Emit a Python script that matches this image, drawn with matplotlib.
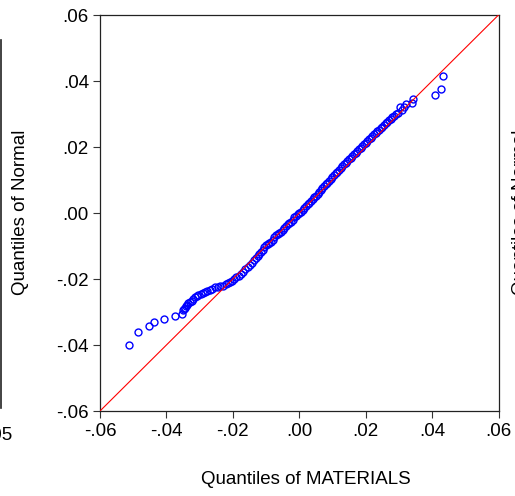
import numpy as np
import matplotlib.pyplot as plt
from matplotlib.lines import Line2D

plt.rcParams['font.family'] = ['Liberation Sans', 'DejaVu Sans']

# empirical quantiles of MATERIALS (x) against normal quantiles (y)
lower_x = [-0.0513, -0.0485, -0.0453, -0.0436, -0.0408, -0.0374, -0.0353,
           -0.0350, -0.0347, -0.0344, -0.0341, -0.0338, -0.0334, -0.0329, -0.0324,
           -0.0319, -0.0314, -0.0309, -0.0304, -0.0297, -0.0290, -0.0284, -0.0277,
           -0.0269, -0.0262, -0.0254, -0.0246, -0.0238, -0.0229, -0.0222, -0.0215,
           -0.0209, -0.0202, -0.0196, -0.0189, -0.0182, -0.0175, -0.0169, -0.0162,
           -0.0155, -0.0149, -0.0142, -0.0135, -0.0129]
lower_y = [-0.0400, -0.0362, -0.0342, -0.0329, -0.0320, -0.0311, -0.0305,
           -0.0294, -0.0291, -0.0287, -0.0282, -0.0278, -0.0274, -0.0271, -0.0266,
           -0.0260, -0.0255, -0.0250, -0.0247, -0.0244, -0.0241, -0.0238, -0.0236,
           -0.0233, -0.0229, -0.0225, -0.0223, -0.0222, -0.0220, -0.0216, -0.0212,
           -0.0209, -0.0206, -0.0201, -0.0194, -0.0190, -0.0184, -0.0178, -0.0171,
           -0.0164, -0.0158, -0.0151, -0.0143, -0.0137]

mid_x = [-0.0125, -0.0120, -0.0115, -0.0110, -0.0105, -0.0100, -0.0095, -0.0090,
         -0.0085, -0.0080, -0.0075, -0.0070, -0.0065, -0.0060, -0.0055, -0.0050,
         -0.0045, -0.0040, -0.0035, -0.0030, -0.0025, -0.0020, -0.0015, -0.0010,
         -0.0005, 0.0000, 0.0005, 0.0010, 0.0015, 0.0020, 0.0025, 0.0030,
         0.0035, 0.0040, 0.0045, 0.0050, 0.0055, 0.0060, 0.0065, 0.0070,
         0.0075, 0.0080, 0.0085, 0.0090, 0.0095, 0.0100, 0.0105, 0.0110,
         0.0115, 0.0120, 0.0125, 0.0130, 0.0135, 0.0140, 0.0145, 0.0150,
         0.0155, 0.0160, 0.0165, 0.0170, 0.0175, 0.0180, 0.0185, 0.0190,
         0.0195, 0.0200, 0.0205, 0.0210, 0.0215, 0.0220, 0.0225, 0.0230,
         0.0235, 0.0240, 0.0245, 0.0250, 0.0255, 0.0260, 0.0265, 0.0270,
         0.0275, 0.0280, 0.0285]
mid_y = [-0.0131, -0.0124, -0.0118, -0.0111, -0.0104, -0.0098, -0.0094, -0.0091,
         -0.0087, -0.0081, -0.0074, -0.0068, -0.0063, -0.0061, -0.0057, -0.0051,
         -0.0044, -0.0038, -0.0034, -0.0031, -0.0026, -0.0020, -0.0013, -0.0008,
         -0.0004, 0.0000, 0.0004, 0.0010, 0.0016, 0.0022, 0.0027, 0.0031,
         0.0036, 0.0042, 0.0048, 0.0053, 0.0058, 0.0064, 0.0070, 0.0075,
         0.0081, 0.0087, 0.0092, 0.0097, 0.0103, 0.0109, 0.0115, 0.0120,
         0.0125, 0.0131, 0.0137, 0.0142, 0.0147, 0.0152, 0.0158, 0.0163,
         0.0168, 0.0173, 0.0178, 0.0183, 0.0188, 0.0193, 0.0198, 0.0203,
         0.0208, 0.0213, 0.0218, 0.0223, 0.0228, 0.0233, 0.0238, 0.0243,
         0.0248, 0.0253, 0.0258, 0.0262, 0.0267, 0.0272, 0.0277, 0.0281,
         0.0286, 0.0290, 0.0295]

upper_x = [0.0290, 0.0297, 0.0304, 0.0310, 0.0314, 0.0322, 0.0340, 0.0342,
           0.0408, 0.0428, 0.0433]
upper_y = [0.0299, 0.0302, 0.0322, 0.0312, 0.0320, 0.0330, 0.0334, 0.0345,
           0.0358, 0.0376, 0.0415]

ticks = [-0.06, -0.04, -0.02, 0.00, 0.02, 0.04, 0.06]
tick_labels = ['-.06', '-.04', '-.02', '.00', '.02', '.04', '.06']

W, H = 515, 496
fig = plt.figure(figsize=(W / 100, H / 100), dpi=100)
ax = fig.add_axes([100 / W, 1 - 411 / H, 398.5 / W, 396 / H])

qx = np.array(lower_x + mid_x + upper_x)
qy = np.array(lower_y + mid_y + upper_y)
ax.plot(qx, qy, 'o', mfc='none', mec='#0000ff', ms=5.0, mew=1.0, zorder=2)
ax.axline((0, 0), slope=1, color='red', lw=0.8, zorder=3)

ax.set_xlim(ticks[0], ticks[-1])
ax.set_ylim(ticks[0], ticks[-1])
ax.set_xticks(ticks)
ax.set_xticklabels(tick_labels)
ax.set_yticks(ticks)
ax.set_yticklabels(tick_labels)
ax.tick_params(direction='out', length=5, width=0.8, labelsize=13.5, color='#333333')
ax.tick_params(axis='x', pad=4)
ax.tick_params(axis='y', pad=3)
for s in ax.spines.values():
    s.set_linewidth(0.9)
    s.set_color('#222222')

fig.text(306 / W, 1 - 479 / H, 'Quantiles of MATERIALS', fontsize=13.5,
         ha='center', va='center')
fig.text(21 / W, 1 - 212 / H, 'Quantiles of Normal', fontsize=13.5,
         rotation=90, ha='center', va='center')

# edges of the neighbouring panels
fig.add_artist(Line2D([0.8 / W, 0.8 / W], [1 - 40 / H, 1 - 408 / H],
                      transform=fig.transFigure, color='#222222', lw=1.2))
fig.text(-1 / W, 1 - 436 / H, '.05', fontsize=13.5, ha='center', va='center')
fig.text(512 / W, 1 - 212 / H, 'Quantiles of Normal', fontsize=13.5,
         rotation=90, ha='left', va='center')

fig.savefig('out.png', dpi=100)
